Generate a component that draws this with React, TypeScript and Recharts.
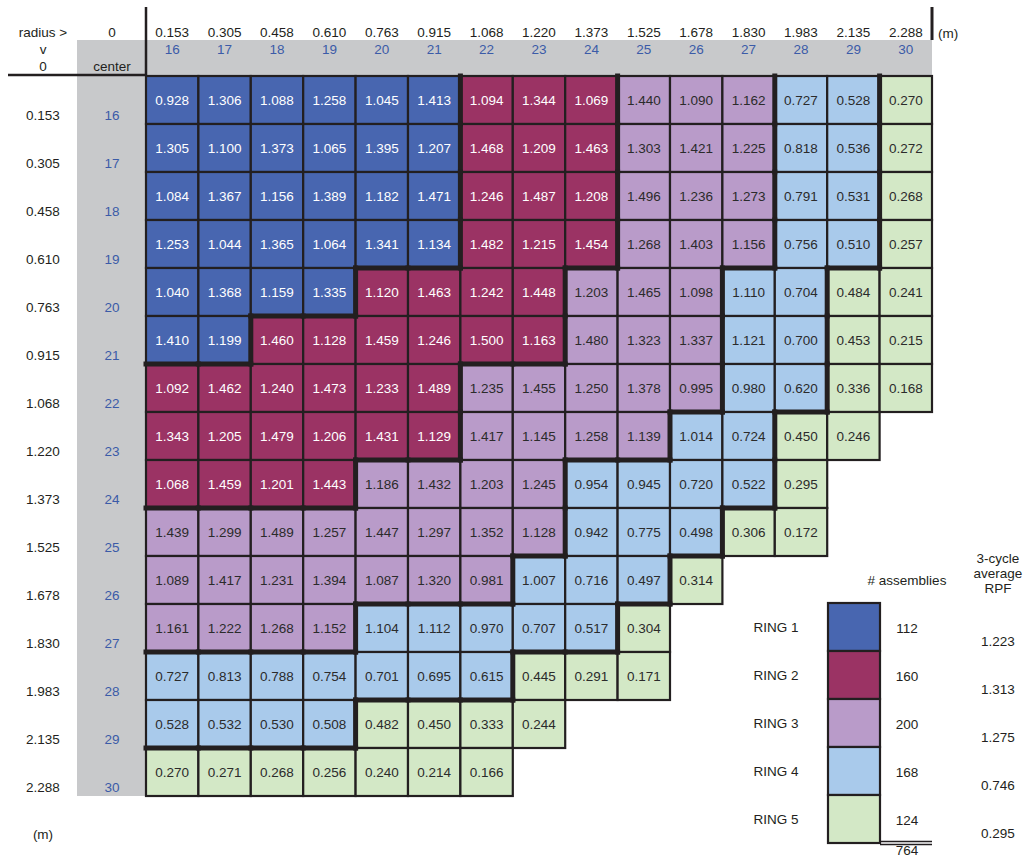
import React from 'react'
import { Scatter, ScatterChart, XAxis, YAxis } from 'recharts'

// assembly positions (column / row index) and their radii
const COLUMNS = [16, 17, 18, 19, 20, 21, 22, 23, 24, 25, 26, 27, 28, 29, 30]
const ROWS = [16, 17, 18, 19, 20, 21, 22, 23, 24, 25, 26, 27, 28, 29, 30]
const RADII = [
  '0.153', '0.305', '0.458', '0.610', '0.763', '0.915', '1.068', '1.220',
  '1.373', '1.525', '1.678', '1.830', '1.983', '2.135', '2.288'
]

// 3-cycle average RPF per cell, one array per row
const RPF_ROWS: number[][] = [
  [0.928, 1.306, 1.088, 1.258, 1.045, 1.413, 1.094, 1.344, 1.069, 1.44, 1.09, 1.162, 0.727, 0.528, 0.27],
  [1.305, 1.1, 1.373, 1.065, 1.395, 1.207, 1.468, 1.209, 1.463, 1.303, 1.421, 1.225, 0.818, 0.536, 0.272],
  [1.084, 1.367, 1.156, 1.389, 1.182, 1.471, 1.246, 1.487, 1.208, 1.496, 1.236, 1.273, 0.791, 0.531, 0.268],
  [1.253, 1.044, 1.365, 1.064, 1.341, 1.134, 1.482, 1.215, 1.454, 1.268, 1.403, 1.156, 0.756, 0.51, 0.257],
  [1.04, 1.368, 1.159, 1.335, 1.12, 1.463, 1.242, 1.448, 1.203, 1.465, 1.098, 1.11, 0.704, 0.484, 0.241],
  [1.41, 1.199, 1.46, 1.128, 1.459, 1.246, 1.5, 1.163, 1.48, 1.323, 1.337, 1.121, 0.7, 0.453, 0.215],
  [1.092, 1.462, 1.24, 1.473, 1.233, 1.489, 1.235, 1.455, 1.25, 1.378, 0.995, 0.98, 0.62, 0.336, 0.168],
  [1.343, 1.205, 1.479, 1.206, 1.431, 1.129, 1.417, 1.145, 1.258, 1.139, 1.014, 0.724, 0.45, 0.246],
  [1.068, 1.459, 1.201, 1.443, 1.186, 1.432, 1.203, 1.245, 0.954, 0.945, 0.72, 0.522, 0.295],
  [1.439, 1.299, 1.489, 1.257, 1.447, 1.297, 1.352, 1.128, 0.942, 0.775, 0.498, 0.306, 0.172],
  [1.089, 1.417, 1.231, 1.394, 1.087, 1.32, 0.981, 1.007, 0.716, 0.497, 0.314],
  [1.161, 1.222, 1.268, 1.152, 1.104, 1.112, 0.97, 0.707, 0.517, 0.304],
  [0.727, 0.813, 0.788, 0.754, 0.701, 0.695, 0.615, 0.445, 0.291, 0.171],
  [0.528, 0.532, 0.53, 0.508, 0.482, 0.45, 0.333, 0.244],
  [0.27, 0.271, 0.268, 0.256, 0.24, 0.214, 0.166]
]

// ring number of each cell
const RING_ROWS: number[][] = [
  [1, 1, 1, 1, 1, 1, 2, 2, 2, 3, 3, 3, 4, 4, 5],
  [1, 1, 1, 1, 1, 1, 2, 2, 2, 3, 3, 3, 4, 4, 5],
  [1, 1, 1, 1, 1, 1, 2, 2, 2, 3, 3, 3, 4, 4, 5],
  [1, 1, 1, 1, 1, 1, 2, 2, 2, 3, 3, 3, 4, 4, 5],
  [1, 1, 1, 1, 2, 2, 2, 2, 3, 3, 3, 4, 4, 5, 5],
  [1, 1, 2, 2, 2, 2, 2, 2, 3, 3, 3, 4, 4, 5, 5],
  [2, 2, 2, 2, 2, 2, 3, 3, 3, 3, 3, 4, 4, 5, 5],
  [2, 2, 2, 2, 2, 2, 3, 3, 3, 3, 4, 4, 5, 5],
  [2, 2, 2, 2, 3, 3, 3, 3, 4, 4, 4, 4, 5],
  [3, 3, 3, 3, 3, 3, 3, 3, 4, 4, 4, 5, 5],
  [3, 3, 3, 3, 3, 3, 3, 4, 4, 4, 5],
  [3, 3, 3, 3, 4, 4, 4, 4, 4, 5],
  [4, 4, 4, 4, 4, 4, 4, 5, 5, 5],
  [4, 4, 4, 4, 5, 5, 5, 5],
  [5, 5, 5, 5, 5, 5, 5]
]

// legend
const RING_NAMES = ['RING 1', 'RING 2', 'RING 3', 'RING 4', 'RING 5']
const RING_COLORS = ['#4866b0', '#9b3364', '#b99bc9', '#a9caeb', '#d3e8c6']
const RING_ASSEMBLIES = [112, 160, 200, 168, 124]
const RING_AVG_RPF = ['1.223', '1.313', '1.275', '0.746', '0.295']
const TOTAL_ASSEMBLIES = 764

const cells = RPF_ROWS.flatMap((vals, i) =>
  vals.map((v, j) => ({ col: COLUMNS[j], row: ROWS[i], value: v, ring: RING_ROWS[i][j] }))
)

const W = 1024
const H = 858
const MARGIN = { top: 36, right: 92, bottom: 62, left: 86 }
const X_AXIS_H = 40
const Y_AXIS_W = 60
const PLOT_LEFT = MARGIN.left + Y_AXIS_W
const PLOT_TOP = MARGIN.top + X_AXIS_H
const PLOT_RIGHT = W - MARGIN.right
const PLOT_BOTTOM = H - MARGIN.bottom
const CELL_W = (PLOT_RIGHT - PLOT_LEFT) / COLUMNS.length
const CELL_H = (PLOT_BOTTOM - PLOT_TOP) / ROWS.length

const FONT = '"Liberation Sans", Arial, sans-serif'
const INK = '#231f20'
const BLUE_TEXT = '#3b5ba8'
const GREY = '#c8c9cb'
const FS = 13.5

const ringAt = (row: number, col: number) => {
  const r = RING_ROWS[row - ROWS[0]]
  return r ? r[col - COLUMNS[0]] : undefined
}

const CellShape = (props: any) => {
  const { cx, cy, payload } = props
  const dark = payload.ring <= 2
  return (
    <g>
      <rect
        x={cx - CELL_W / 2}
        y={cy - CELL_H / 2}
        width={CELL_W}
        height={CELL_H}
        fill={RING_COLORS[payload.ring - 1]}
        stroke={INK}
        strokeWidth={2.2}
      />
      <text
        x={cx}
        y={cy}
        textAnchor="middle"
        dominantBaseline="central"
        fontFamily={FONT}
        fontSize={FS}
        fill={dark ? '#ffffff' : '#2b2b2b'}
      >
        {payload.value.toFixed(3)}
      </text>
    </g>
  )
}

// thick line wherever the neighbouring cell belongs to another ring
const RingEdge = (props: any) => {
  const { cx, cy, payload } = props
  const right = ringAt(payload.row, payload.col + 1)
  const below = ringAt(payload.row + 1, payload.col)
  const x1 = cx - CELL_W / 2
  const x2 = cx + CELL_W / 2
  const y1 = cy - CELL_H / 2
  const y2 = cy + CELL_H / 2
  return (
    <g stroke={INK} strokeWidth={5} strokeLinecap="square">
      {right !== undefined && right !== payload.ring && <line x1={x2} y1={y1} x2={x2} y2={y2} />}
      {below !== undefined && below !== payload.ring && <line x1={x1} y1={y2} x2={x2} y2={y2} />}
    </g>
  )
}

const TopTick = (props: any) => {
  const { x, payload } = props
  const i = COLUMNS.indexOf(payload.value)
  return (
    <g fontFamily={FONT} fontSize={FS} textAnchor="middle">
      <text x={x} y={32} dominantBaseline="central" fill={INK}>{RADII[i]}</text>
      <text x={x} y={49} dominantBaseline="central" fill={BLUE_TEXT}>{payload.value}</text>
    </g>
  )
}

const LeftTick = (props: any) => {
  const { y, payload } = props
  const i = ROWS.indexOf(payload.value)
  return (
    <g fontFamily={FONT} fontSize={FS} textAnchor="middle">
      <text x={43} y={y + 15} dominantBaseline="central" fill={INK}>{RADII[i]}</text>
      <text x={112} y={y + 15} dominantBaseline="central" fill={BLUE_TEXT}>{payload.value}</text>
    </g>
  )
}

function Frame() {
  const sw = { x: 828, y: 603, w: 52, h: 48 }
  return (
    <svg width={W} height={H} style={{ position: 'absolute', left: 0, top: 0 }} fontFamily={FONT} fontSize={FS}>
      <rect x={77} y={40} width={PLOT_RIGHT - 77} height={PLOT_TOP - 1 - 40} fill={GREY} />
      <rect x={77} y={40} width={PLOT_LEFT - 77} height={PLOT_BOTTOM - 40} fill={GREY} />
      <line x1={PLOT_LEFT} y1={7} x2={PLOT_LEFT} y2={PLOT_TOP} stroke={INK} strokeWidth={2.5} />
      <line x1={8} y1={75} x2={PLOT_LEFT} y2={75} stroke={INK} strokeWidth={2.5} />
      <line x1={PLOT_RIGHT} y1={7} x2={PLOT_RIGHT} y2={40} stroke={INK} strokeWidth={3} />
      <g textAnchor="middle" dominantBaseline="central" fill={INK}>
        <text x={43} y={32}>radius &gt;</text>
        <text x={43} y={49}>v</text>
        <text x={43} y={66}>0</text>
        <text x={112} y={32}>0</text>
        <text x={112} y={66}>center</text>
        <text x={43} y={834}>(m)</text>
        <text x={907} y={580}># assemblies</text>
        <text x={998} y={558}>3-cycle</text>
        <text x={998} y={573}>average</text>
        <text x={998} y={588}>RPF</text>
        <text x={907} y={850}>{TOTAL_ASSEMBLIES}</text>
      </g>
      <text x={938} y={33} dominantBaseline="central" fill={INK}>(m)</text>
      {RING_NAMES.map((name, i) => (
        <g key={name} textAnchor="middle" dominantBaseline="central" fill={INK}>
          <rect x={sw.x} y={sw.y + i * sw.h} width={sw.w} height={sw.h} fill={RING_COLORS[i]} stroke={INK} strokeWidth={2.2} />
          <text x={776} y={sw.y + i * sw.h + 24}>{name}</text>
          <text x={907} y={sw.y + i * sw.h + 25}>{RING_ASSEMBLIES[i]}</text>
          <text x={998} y={sw.y + i * sw.h + 38}>{RING_AVG_RPF[i]}</text>
        </g>
      ))}
      <line x1={880} y1={841.5} x2={932} y2={841.5} stroke={INK} strokeWidth={1.3} />
      <line x1={880} y1={844.5} x2={932} y2={844.5} stroke={INK} strokeWidth={1.3} />
    </svg>
  )
}

export default function App() {
  return (
    <div style={{ position: 'absolute', left: 0, top: 0, width: W, height: H, background: '#fff' }}>
      <Frame />
      <div style={{ position: 'absolute', left: 0, top: 0 }}>
        <ScatterChart width={W} height={H} margin={MARGIN}>
          <XAxis
            type="number"
            dataKey="col"
            orientation="top"
            domain={[15.5, 30.5]}
            ticks={COLUMNS}
            interval={0}
            height={X_AXIS_H}
            axisLine={false}
            tickLine={false}
            tick={(p: any) => <TopTick {...p} />}
          />
          <YAxis
            type="number"
            dataKey="row"
            reversed
            domain={[15.5, 30.5]}
            ticks={ROWS}
            interval={0}
            width={Y_AXIS_W}
            axisLine={false}
            tickLine={false}
            tick={(p: any) => <LeftTick {...p} />}
          />
          <Scatter data={cells} shape={CellShape} isAnimationActive={false} />
          <Scatter data={cells} shape={RingEdge} isAnimationActive={false} />
        </ScatterChart>
      </div>
    </div>
  )
}
